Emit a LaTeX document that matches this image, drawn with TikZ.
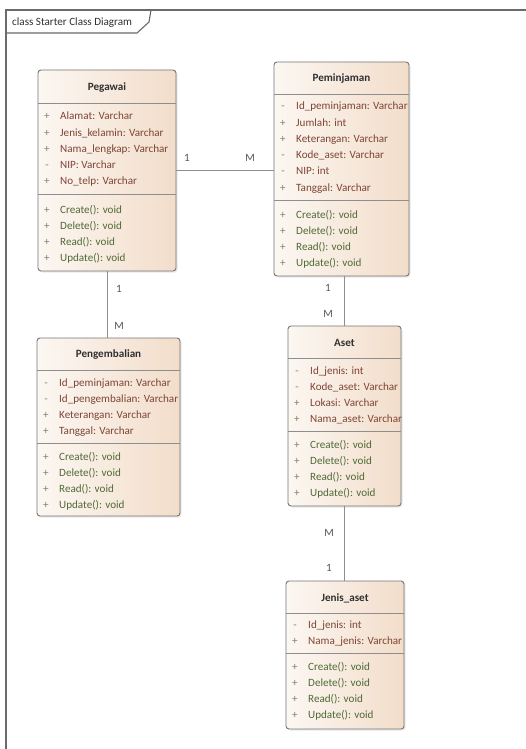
\documentclass[tikz,border=0pt]{standalone}
\usepackage{fontspec}
\setmainfont{Carlito}
\usetikzlibrary{shadows,calc}

\definecolor{framegray}{HTML}{6A6A6A}
\definecolor{boxline}{HTML}{767676}
\definecolor{sepgray}{HTML}{8E8E8E}
\definecolor{fillL}{HTML}{FCF7F2}
\definecolor{fillR}{HTML}{F2DDCA}
\definecolor{attrc}{HTML}{7E4535}
\definecolor{methc}{HTML}{4F6A35}
\definecolor{visc}{HTML}{8A7A70}
\definecolor{titlec}{HTML}{303030}
\definecolor{multc}{HTML}{555555}

\newcommand\umlfont{\fontsize{11.1}{13}\selectfont}

\tikzset{
  classbox/.style={draw=boxline, line width=0.9pt, rounded corners=3pt,
    left color=fillL, right color=fillR, anchor=north west,
    inner sep=0pt, outer sep=0pt,
    drop shadow={opacity=0.18, shadow xshift=1.5pt, shadow yshift=-1.5pt}},
  ctitle/.style={font=\umlfont\bfseries, text=titlec, inner sep=0pt},
  sepline/.style={draw=sepgray, line width=1pt},
  attr/.style={font=\umlfont, text=attrc, anchor=base west, inner sep=0pt},
  meth/.style={font=\umlfont, text=methc, anchor=base west, inner sep=0pt},
  vis/.style={font=\umlfont, text=visc, anchor=base, inner sep=0pt},
  conn/.style={draw=sepgray, line width=0.9pt},
  mult/.style={font=\umlfont, text=multc, inner sep=0pt},
  frame/.style={draw=framegray, line width=1.1pt},
}

% rows of one compartment: prefix, marker x, text x, first row y, style, list
\newcommand\umlrows[6]{%
  \foreach \vv/\tx [count=\i] in {#6}{
    \node[vis] (#1v\i) at (#2,{#4+16.2*(\i-1)+4}) {\vv};
    \node[#5] (#1\i) at (#3,{#4+16.2*(\i-1)+4}) {\tx};
  }}

\begin{document}
\begin{tikzpicture}[x=1pt,y=-1pt]
\useasboundingbox (0,0) rectangle (526,749);
\fill[white] (0,0) rectangle (526,749);

% diagram frame with its name tab
\draw[frame] (6,749) -- (6,10) -- (526,10);
\draw[frame] (6,33) -- (137,33) -- (149,22) -- (151,10);
\node[font=\umlfont, text=titlec, anchor=base west, inner sep=0pt] (frametitle) at (12,26) {class Starter Class Diagram};

% Pegawai
\node[classbox, minimum width=138, minimum height=201] (pegawai) at (38,70) {};
\node[ctitle] (pegawai-t) at (107,88) {Pegawai};
\draw[sepline] (38,104) -- (176,104);
\umlrows{pegA}{47}{60}{116}{attr}{+/Alamat: Varchar, +/Jenis\_kelamin: Varchar, +/Nama\_lengkap: Varchar, -/NIP: Varchar, +/No\_telp: Varchar}
\draw[sepline] (38,194) -- (176,194);
\umlrows{pegM}{47}{60}{209}{meth}{+/Create(): void, +/Delete(): void, +/Read(): void, +/Update(): void}

% Peminjaman
\node[classbox, minimum width=135, minimum height=214] (peminjaman) at (274,62) {};
\node[ctitle] (peminjaman-t) at (341.5,79) {Peminjaman};
\draw[sepline] (274,95) -- (409,95);
\umlrows{pemA}{283}{296}{106}{attr}{-/Id\_peminjaman: Varchar, +/Jumlah: int, +/Keterangan: Varchar, -/Kode\_aset: Varchar, -/NIP: int, +/Tanggal: Varchar}
\draw[sepline] (274,200) -- (409,200);
\umlrows{pemM}{283}{296}{214}{meth}{+/Create(): void, +/Delete(): void, +/Read(): void, +/Update(): void}

% Pengembalian
\node[classbox, minimum width=143, minimum height=178] (pengembalian) at (37,338) {};
\node[ctitle] (pengembalian-t) at (108.5,355) {Pengembalian};
\draw[sepline] (37,370) -- (180,370);
\umlrows{penA}{46}{59}{382}{attr}{-/Id\_peminjaman: Varchar, -/Id\_pengembalian: Varchar, +/Keterangan: Varchar, +/Tanggal: Varchar}
\draw[sepline] (37,443) -- (180,443);
\umlrows{penM}{46}{59}{456}{meth}{+/Create(): void, +/Delete(): void, +/Read(): void, +/Update(): void}

% Aset
\node[classbox, minimum width=113, minimum height=180] (aset) at (288,326) {};
\node[ctitle] (aset-t) at (344.5,343) {Aset};
\draw[sepline] (288,358) -- (401,358);
\umlrows{asA}{297}{310}{370}{attr}{-/Id\_jenis: int, -/Kode\_aset: Varchar, +/Lokasi: Varchar, +/Nama\_aset: Varchar}
\draw[sepline] (288,431) -- (401,431);
\umlrows{asM}{297}{310}{444}{meth}{+/Create(): void, +/Delete(): void, +/Read(): void, +/Update(): void}

% Jenis_aset
\node[classbox, minimum width=118, minimum height=148] (jenis) at (286,581) {};
\node[ctitle] (jenis-t) at (345,598) {Jenis\_aset};
\draw[sepline] (286,613) -- (404,613);
\umlrows{jeA}{295}{308}{624}{attr}{-/Id\_jenis: int, +/Nama\_jenis: Varchar}
\draw[sepline] (286,653) -- (404,653);
\umlrows{jeM}{295}{308}{666}{meth}{+/Create(): void, +/Delete(): void, +/Read(): void, +/Update(): void}

% associations
\draw[conn] (pegawai.east) -- (pegawai.east -| peminjaman.west);
\draw[conn] (pegawai.south) -- (pegawai.south |- pengembalian.north);
\draw[conn] (aset.north |- peminjaman.south) -- (aset.north);
\draw[conn] (aset.south) -- (aset.south |- jenis.north);

% multiplicities
\node[mult] (m1) at (187,158) {1};
\node[mult] (m2) at (250,158) {M};
\node[mult] (m3) at (119,289) {1};
\node[mult] (m4) at (119,326) {M};
\node[mult] (m5) at (328,288) {1};
\node[mult] (m6) at (328,314) {M};
\node[mult] (m7) at (329,533) {M};
\node[mult] (m8) at (329,568) {1};
\end{tikzpicture}
\end{document}
